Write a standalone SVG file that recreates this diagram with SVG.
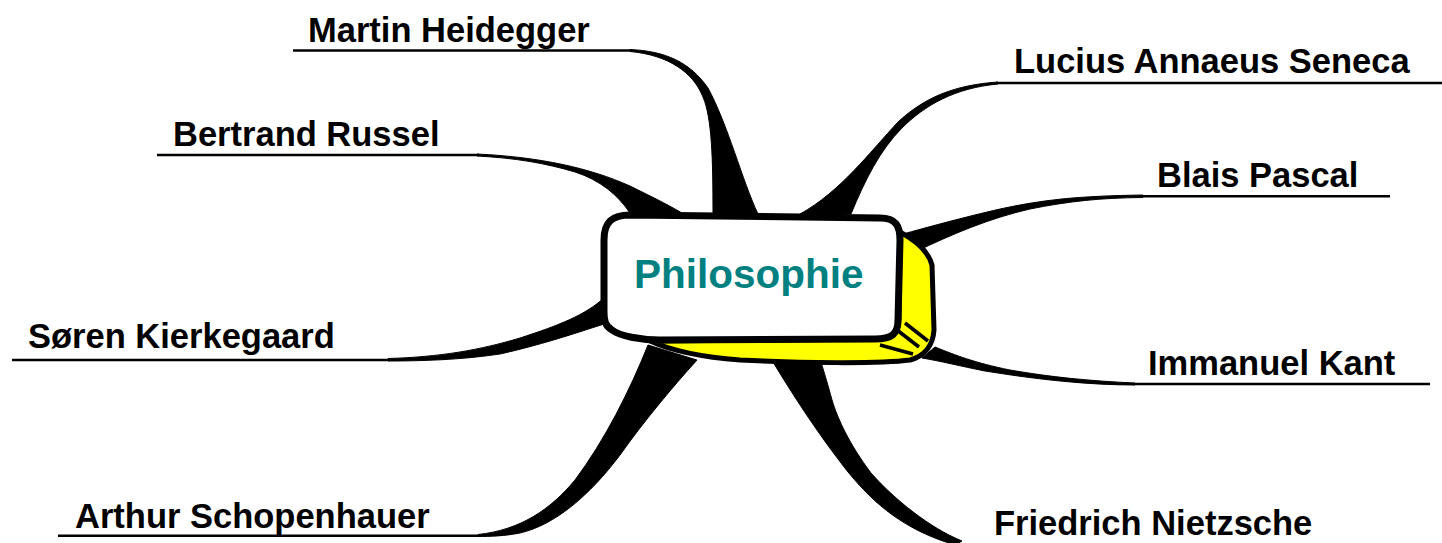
<svg xmlns="http://www.w3.org/2000/svg" width="1442" height="543" viewBox="0 0 1442 543">
<style>
.lbl{font-family:"Liberation Sans",Arial,sans-serif;font-weight:bold;font-size:34.5px;fill:#000}
.ul{stroke:#000;stroke-width:2.6;fill:none}
.br{fill:#000;stroke:#000;stroke-width:1}
.title{font-family:"Liberation Sans",Arial,sans-serif;font-weight:bold;font-size:40.5px;fill:#008080}
</style>
<rect width="1442" height="543" fill="#fff"/>
<g id="connectors">
<path class="br" d="M 630,49.5 C 665,51 690,62 708,88 C 728,125 742,180 758,214 L 713,214 C 713,160 712,118 703,97 C 693,72 668,55 630,51.5 Z"/>
<path class="br" d="M 477,154 C 540,157 590,168 630,186 C 650,196 665,203 682,213 L 630,213 C 618,195 600,180 575,172 C 545,163 515,158 477,156 Z"/>
<path class="br" d="M 998,82 C 955,85 925,97 898,122 C 870,152 840,192 800,214 L 851,214 C 865,180 880,150 902,128 C 925,105 955,88 998,84 Z"/>
<path class="br" d="M 1143,195 C 1080,196 1040,199 983,213 C 950,221 925,228 903,234 L 915,252 C 950,235 990,218 1030,209 C 1070,201 1100,198 1143,197.5 Z"/>
<path class="br" d="M 388,358.5 C 440,357 480,350 520,338 C 560,325 585,315 604,298 L 604,324 C 570,335 540,345 500,354 C 460,360 420,361 388,361 Z"/>
<path class="br" d="M 478,534.5 C 520,530 550,510 575,480 C 605,440 630,390 648,345 L 697,360 C 670,390 645,420 620,455 C 590,495 555,525 520,533 C 505,536 490,536.5 478,536.5 Z"/>
<path class="br" d="M 773,362 C 790,390 815,430 848,472 C 875,505 905,530 955,545 L 962,541 C 930,528 895,500 871,473 C 850,445 838,420 832,400 C 828,385 824,372 821,362 Z"/>
<path class="br" d="M 935,347 C 955,355 975,363 1010,370 C 1050,377 1090,381 1135,383 L 1135,385 C 1090,385 1040,380 985,371 C 960,366 940,361 922,358 Z"/>
</g>
<g id="center">
<path d="M 900,232 C 915,240 928,250 932,265 L 934,330 C 933,345 925,356 910,360 C 880,364 800,363 740,360 C 700,357 670,350 650,341 L 880,339 C 895,337 899,330 899,318 Z" fill="#ffff00" stroke="#000" stroke-width="5" stroke-linejoin="round"/>
<path d="M 905,323 L 928,341 M 897,330 L 919,347 M 880,345 L 913,354" stroke="#000" stroke-width="3.5" fill="none"/>
<path d="M 630,215 L 880,218 C 896,218 900,226 900,240 L 898,320 C 898,334 892,339 875,339 L 660,340 C 640,340 620,336 612,330 C 605,326 604,320 604,312 L 604,240 C 604,222 612,215 630,215 Z" fill="#fff" stroke="#000" stroke-width="7" stroke-linejoin="round"/>
<text class="title" x="634" y="288">Philosophie</text>
</g>
<g id="heidegger"><line class="ul" x1="293" y1="50.5" x2="632" y2="50.5"/><text class="lbl" x="308" y="42">Martin Heidegger</text></g>
<g id="russel"><line class="ul" x1="157" y1="155" x2="479" y2="155"/><text class="lbl" x="173" y="146">Bertrand Russel</text></g>
<g id="seneca"><line class="ul" x1="996" y1="83" x2="1442" y2="83"/><text class="lbl" x="1014" y="73">Lucius Annaeus Seneca</text></g>
<g id="pascal"><line class="ul" x1="1141" y1="196.2" x2="1390" y2="196.2"/><text class="lbl" x="1157" y="187">Blais Pascal</text></g>
<g id="kierkegaard"><line class="ul" x1="12" y1="360" x2="390" y2="360"/><text class="lbl" x="28" y="348">Søren Kierkegaard</text></g>
<g id="schopenhauer"><line class="ul" x1="58" y1="535.7" x2="480" y2="535.7"/><text class="lbl" x="75" y="528">Arthur Schopenhauer</text></g>
<g id="kant"><line class="ul" x1="1133" y1="384" x2="1430" y2="384"/><text class="lbl" x="1148" y="375">Immanuel Kant</text></g>
<g id="nietzsche"><text class="lbl" x="994" y="535">Friedrich Nietzsche</text></g>
</svg>
